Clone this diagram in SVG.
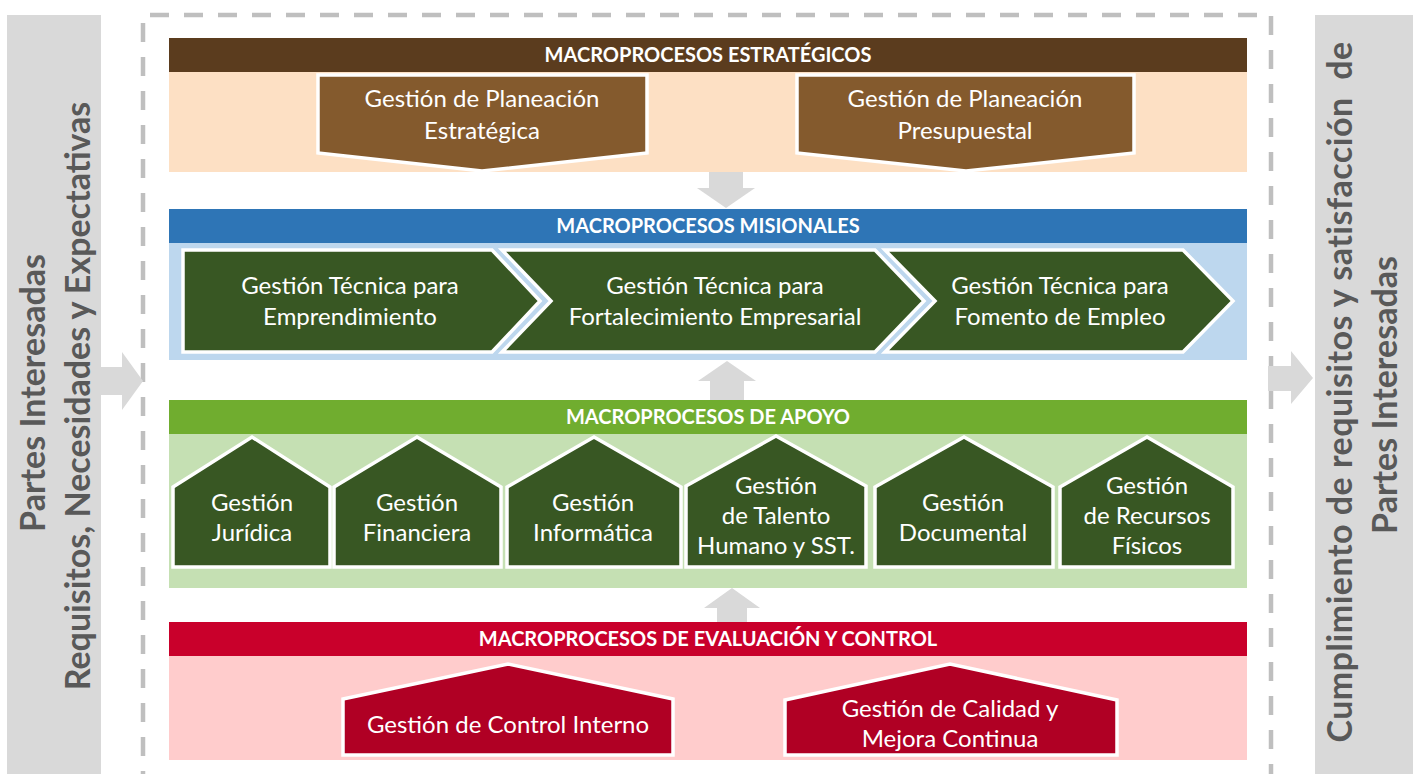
<svg xmlns="http://www.w3.org/2000/svg" width="1413" height="774" viewBox="0 0 1413 774">
<defs>
<style>
.hdr{font-family:Lato,"Open Sans","Liberation Sans",sans-serif;font-weight:bold;font-size:20px;fill:#ffffff;text-anchor:middle}
.nt{font-family:Lato,"Open Sans","Liberation Sans",sans-serif;font-size:24px;fill:#ffffff;text-anchor:middle}
.side{font-family:Lato,"Open Sans","Liberation Sans",sans-serif;font-weight:bold;font-size:34px;fill:#595959;text-anchor:middle}
.shape{stroke:#ffffff;stroke-width:3.5;stroke-linejoin:miter}
.est{fill:#845a2d}
.mis{fill:#385723}
.apo{fill:#385723}
.eva{fill:#b00024}
.conn{fill:#d9d9d9}
</style>
</defs>
<rect width="1413" height="774" fill="#ffffff"/>

<g id="panel-left">
<rect x="7" y="15" width="94" height="770" fill="#d9d9d9"/>
<text class="side" transform="translate(45,393) rotate(-90)">Partes Interesadas</text>
<text class="side" transform="translate(90,396) rotate(-90)">Requisitos, Necesidades y Expectativas</text>
</g>

<g id="panel-right">
<rect x="1315" y="15" width="98" height="770" fill="#d9d9d9"/>
<text class="side" transform="translate(1352,392) rotate(-90)" letter-spacing="0.5" xml:space="preserve">Cumplimiento de requisitos y satisfacción  de</text>
<text class="side" transform="translate(1397,395) rotate(-90)">Partes Interesadas</text>
</g>

<g id="boundary">
<path d="M143,790 V15 H1271 V790" fill="none" stroke="#bfbfbf" stroke-width="4.5" stroke-dasharray="19 15"/>
</g>

<g id="estrategicos">
<rect x="169" y="72" width="1078" height="100" fill="#fde0c4"/>
<rect x="169" y="38" width="1078" height="34" fill="#5b3c1e"/>
<text class="hdr" x="708" y="62">MACROPROCESOS ESTRATÉGICOS</text>
</g>
<g id="planeacion-estrategica">
<polygon class="shape est" points="318,75 647,75 647,153 482,171 318,153"/>
<text class="nt" x="482" y="107">Gestión de Planeación</text>
<text class="nt" x="482" y="139">Estratégica</text>
</g>
<g id="planeacion-presupuestal">
<polygon class="shape est" points="797,75 1134,75 1134,153 966,171 797,153"/>
<text class="nt" x="965" y="107">Gestión de Planeación</text>
<text class="nt" x="965" y="139">Presupuestal</text>
</g>

<g id="misionales">
<rect x="169" y="243" width="1078" height="117" fill="#bdd7ee"/>
<rect x="169" y="209" width="1078" height="34" fill="#2e75b6"/>
<text class="hdr" x="708" y="233">MACROPROCESOS MISIONALES</text>
</g>
<g id="emprendimiento">
<polygon class="shape mis" points="183,250 492,250 540,301 492,352 183,352"/>
<text class="nt" x="350" y="294">Gestión Técnica para</text>
<text class="nt" x="350" y="325">Emprendimiento</text>
</g>
<g id="fortalecimiento">
<polygon class="shape mis" points="502,250 875,250 924,301 875,352 502,352 551,301"/>
<text class="nt" x="715" y="294">Gestión Técnica para</text>
<text class="nt" x="715" y="325">Fortalecimiento Empresarial</text>
</g>
<g id="fomento-empleo">
<polygon class="shape mis" points="885,250 1183,250 1233,301 1183,352 885,352 935,301"/>
<text class="nt" x="1060" y="294">Gestión Técnica para</text>
<text class="nt" x="1060" y="325">Fomento de Empleo</text>
</g>

<g id="apoyo">
<rect x="169" y="434" width="1078" height="154" fill="#c5e0b3"/>
<rect x="169" y="400" width="1078" height="34" fill="#70ad2f"/>
<text class="hdr" x="708" y="424">MACROPROCESOS DE APOYO</text>
</g>
<g id="juridica">
<polygon class="shape apo" points="173,487 252,437 330,487 330,567 173,567"/>
<text class="nt" x="252" y="511">Gestión</text>
<text class="nt" x="252" y="541">Jurídica</text>
</g>
<g id="financiera">
<polygon class="shape apo" points="334,487 417,437 501,487 501,567 334,567"/>
<text class="nt" x="417" y="511">Gestión</text>
<text class="nt" x="417" y="541">Financiera</text>
</g>
<g id="informatica">
<polygon class="shape apo" points="507,487 594,437 681,487 681,567 507,567"/>
<text class="nt" x="593" y="511">Gestión</text>
<text class="nt" x="593" y="541">Informática</text>
</g>
<g id="talento-humano">
<polygon class="shape apo" points="686,486 776,436 866,486 866,567 686,567"/>
<text class="nt" x="776" y="494">Gestión</text>
<text class="nt" x="776" y="524">de Talento</text>
<text class="nt" x="776" y="554">Humano y SST.</text>
</g>
<g id="documental">
<polygon class="shape apo" points="875,487 964,437 1053,487 1053,567 875,567"/>
<text class="nt" x="963" y="511">Gestión</text>
<text class="nt" x="963" y="541">Documental</text>
</g>
<g id="recursos-fisicos">
<polygon class="shape apo" points="1060,487 1147,437 1233,487 1233,567 1060,567"/>
<text class="nt" x="1147" y="494">Gestión</text>
<text class="nt" x="1147" y="524">de Recursos</text>
<text class="nt" x="1147" y="554">Físicos</text>
</g>

<g id="evaluacion">
<rect x="169" y="656" width="1078" height="104" fill="#ffcccc"/>
<rect x="169" y="622" width="1078" height="34" fill="#c9002b"/>
<text class="hdr" x="708" y="646">MACROPROCESOS DE EVALUACIÓN Y CONTROL</text>
</g>
<g id="control-interno">
<polygon class="shape eva" points="343,699 508,664 673,699 673,755 343,755"/>
<text class="nt" x="508" y="733">Gestión de Control Interno</text>
</g>
<g id="calidad">
<polygon class="shape eva" points="785,700 950,664 1117,700 1117,755 785,755"/>
<text class="nt" x="950" y="717">Gestión de Calidad y</text>
<text class="nt" x="950" y="747">Mejora Continua</text>
</g>

<g id="connectors">
<polygon class="conn" points="101,367 122,367 122,352 143,381 122,410 122,395 101,395"/>
<polygon class="conn" points="1268,366 1291,366 1291,351 1313,378 1291,404 1291,391 1268,391"/>
<polygon class="conn" points="709,172 743,172 743,188 755,188 726,208 697,188 709,188"/>
<polygon class="conn" points="710,400 744,400 744,381 756,381 727,361 698,381 710,381"/>
<polygon class="conn" points="717,622 747,622 747,608 760,608 732,588 704,608 717,608"/>
</g>
</svg>
